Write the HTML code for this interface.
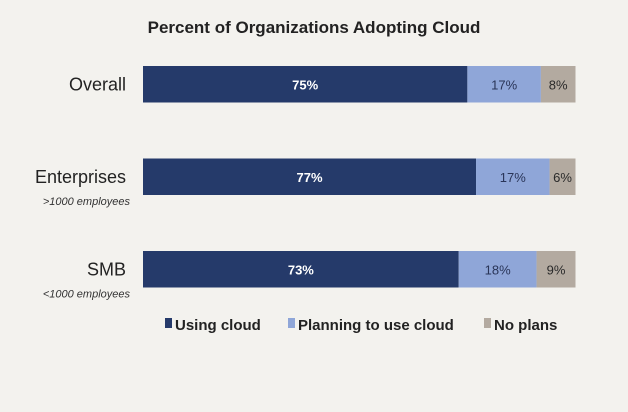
<!DOCTYPE html>
<html><head><meta charset="utf-8"><style>
body{margin:0;background:#f3f2ee;}
svg{display:block;font-family:"Liberation Sans",Arial,sans-serif;}
</style></head><body>
<svg id="chart" width="628" height="412" viewBox="0 0 628 412">
<rect width="628" height="412" fill="#f3f2ee"/>
<text x="314" y="33" text-anchor="middle" font-size="17" font-weight="bold" fill="#222">Percent of Organizations Adopting Cloud</text>
<g id="bars"></g>
<g id="legend" font-size="15" font-weight="bold" fill="#222">
<rect x="165" y="318" width="7" height="10" fill="#253a6a"/>
<text x="175" y="330">Using cloud</text>
<rect x="288" y="318" width="7" height="10" fill="#8fa6d8"/>
<text x="298" y="330">Planning to use cloud</text>
<rect x="484" y="318" width="7" height="10" fill="#b3aaa0"/>
<text x="494" y="330">No plans</text>
</g>
</svg>
<script>
const categories = ["Overall", "Enterprises", "SMB"];
const subLabels = ["", ">1000 employees", "<1000 employees"];
const usingCloud = [75, 77, 73];
const planning = [17, 17, 18];
const noPlans = [8, 6, 9];
const seriesColors = ["#253a6a", "#8fa6d8", "#b3aaa0"];
const textColors = ["#ffffff", "#2a3558", "#2a2a2a"];
const seriesKeys = ["using", "planning", "no-plans"];

const x0 = 143, plotW = 432.5;
const xScale = v => x0 + v / 100 * plotW;
const rowTop = i => 66 + i * 92.5;
const barH = 36.5;
const NS = "http://www.w3.org/2000/svg";
const g = document.getElementById("bars");
function mk(tag, attrs){const e=document.createElementNS(NS,tag);for(const k in attrs)e.setAttribute(k,attrs[k]);return e;}
categories.forEach((cat, i) => {
  const vals = [usingCloud[i], planning[i], noPlans[i]];
  const y = rowTop(i);
  let acc = 0;
  vals.forEach((v, s) => {
    const r = mk("rect", {x: xScale(acc), y: y, width: xScale(acc + v) - xScale(acc), height: barH, fill: seriesColors[s]});
    
    
    g.appendChild(r);
    const t = mk("text", {x: (xScale(acc) + xScale(acc + v)) / 2, y: y + barH / 2 + 5, "text-anchor": "middle", "font-size": 13, "font-weight": s === 0 ? "bold" : "normal", fill: textColors[s]});
    t.textContent = v + "%";
    
    
    g.appendChild(t);
    acc += v;
  });
  const lab = mk("text", {x: 126, y: y + barH / 2 + 6, "text-anchor": "end", "font-size": 18, fill: "#222"});
  lab.textContent = cat;
  
  
  g.appendChild(lab);
  if (subLabels[i]) {
    const sl = mk("text", {x: 130, y: y + barH + 10, "text-anchor": "end", "font-size": 11, "font-style": "italic", fill: "#333"});
    sl.textContent = subLabels[i];
    
    
    g.appendChild(sl);
  }
});
</script>
</body></html>
